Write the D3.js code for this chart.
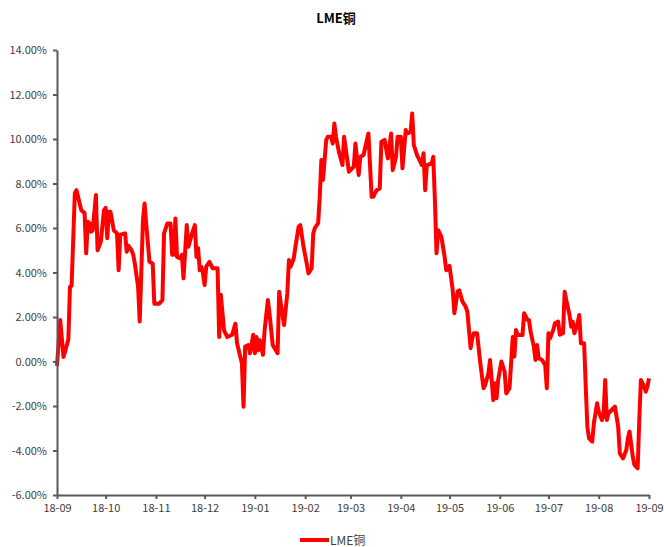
<!DOCTYPE html>
<html>
<head>
  <meta charset="utf-8">
  <title>LME铜</title>
  <script src="https://d3js.org/d3.v7.min.js"></script>
  <style>
  body { margin: 0; background: #fff; }
  text { font-family: "Liberation Sans Narrow", "Arial Narrow", "Noto Sans CJK SC", sans-serif; }
  </style>
</head>
<body>
  <div id="chart"></div>
  <script>
// series: LME copper, % change
var dates = [
  "2018-09-01","2018-09-03","2018-09-05","2018-09-06","2018-09-08","2018-09-09","2018-09-10","2018-09-12","2018-09-13","2018-09-16",
  "2018-09-18","2018-09-19","2018-09-20","2018-09-21","2018-09-22","2018-09-23","2018-09-25","2018-09-26","2018-09-28","2018-09-30",
  "2018-10-01","2018-10-02","2018-10-03","2018-10-04","2018-10-06","2018-10-08","2018-10-09","2018-10-10","2018-10-13","2018-10-14",
  "2018-10-15","2018-10-17","2018-10-18","2018-10-19","2018-10-21","2018-10-22","2018-10-24","2018-10-25","2018-10-26","2018-10-28",
  "2018-10-30","2018-10-31","2018-11-03","2018-11-05","2018-11-06","2018-11-08","2018-11-10","2018-11-11","2018-11-12","2018-11-13",
  "2018-11-14","2018-11-16","2018-11-17","2018-11-18","2018-11-20","2018-11-21","2018-11-23","2018-11-25","2018-11-26","2018-11-27",
  "2018-11-28","2018-11-29","2018-11-30","2018-12-01","2018-12-02","2018-12-04","2018-12-06","2018-12-09","2018-12-10","2018-12-11",
  "2018-12-13","2018-12-15","2018-12-18","2018-12-20","2018-12-21","2018-12-24","2018-12-25","2018-12-26","2018-12-28","2018-12-29",
  "2018-12-31","2019-01-01","2019-01-02","2019-01-03","2019-01-04","2019-01-06","2019-01-07","2019-01-09","2019-01-10","2019-01-12",
  "2019-01-15","2019-01-16","2019-01-17","2019-01-19","2019-01-21","2019-01-22","2019-01-23","2019-01-25","2019-01-26","2019-01-28",
  "2019-01-29","2019-01-31","2019-02-02","2019-02-03","2019-02-05","2019-02-06","2019-02-07","2019-02-09","2019-02-10","2019-02-11",
  "2019-02-12","2019-02-13","2019-02-14","2019-02-15","2019-02-17","2019-02-18","2019-02-19","2019-02-20","2019-02-22","2019-02-24",
  "2019-02-25","2019-02-27","2019-02-28","2019-03-03","2019-03-04","2019-03-05","2019-03-06","2019-03-07","2019-03-09","2019-03-12",
  "2019-03-14","2019-03-15","2019-03-17","2019-03-19","2019-03-20","2019-03-22","2019-03-24","2019-03-26","2019-03-27","2019-03-29",
  "2019-03-30","2019-04-01","2019-04-02","2019-04-04","2019-04-05","2019-04-07","2019-04-08","2019-04-09","2019-04-11","2019-04-14",
  "2019-04-15","2019-04-16","2019-04-17","2019-04-20","2019-04-21","2019-04-22","2019-04-23","2019-04-24","2019-04-26","2019-04-28",
  "2019-04-29","2019-05-01","2019-05-03","2019-05-04","2019-05-06","2019-05-07","2019-05-09","2019-05-11","2019-05-12","2019-05-14",
  "2019-05-15","2019-05-16","2019-05-18","2019-05-20","2019-05-22","2019-05-23","2019-05-25","2019-05-26","2019-05-28","2019-05-29",
  "2019-05-30","2019-05-31","2019-06-02","2019-06-04","2019-06-05","2019-06-07","2019-06-09","2019-06-10","2019-06-11","2019-06-12",
  "2019-06-15","2019-06-16","2019-06-18","2019-06-19","2019-06-20","2019-06-22","2019-06-23","2019-06-24","2019-06-25","2019-06-27",
  "2019-06-29","2019-06-30","2019-07-01","2019-07-02","2019-07-04","2019-07-05","2019-07-07","2019-07-08","2019-07-10","2019-07-11",
  "2019-07-12","2019-07-14","2019-07-15","2019-07-16","2019-07-17","2019-07-19","2019-07-20","2019-07-21","2019-07-23","2019-07-24",
  "2019-07-25","2019-07-26","2019-07-28","2019-07-29","2019-07-31","2019-08-01","2019-08-03","2019-08-04","2019-08-05","2019-08-06",
  "2019-08-07","2019-08-09","2019-08-11","2019-08-13","2019-08-14","2019-08-16","2019-08-18","2019-08-19","2019-08-20","2019-08-22",
  "2019-08-23","2019-08-25","2019-08-26","2019-08-27","2019-08-29","2019-08-30","2019-08-31","2019-09-01"
];
var values = [
  -0.20, 1.86, 0.20, 0.45, 1.00, 3.36, 3.40, 7.56, 7.70, 6.80,
  6.67, 4.86, 6.28, 6.22, 5.83, 5.90, 7.48, 5.00, 5.38, 6.80,
  6.90, 5.54, 6.73, 6.73, 5.90, 5.76, 4.10, 5.70, 5.76, 4.93,
  5.20, 5.00, 4.80, 4.40, 3.36, 1.80, 6.36, 7.10, 6.20, 4.48,
  4.40, 2.60, 2.60, 2.76, 5.76, 6.20, 6.20, 4.80, 4.80, 6.43,
  4.70, 4.63, 4.80, 3.74, 6.13, 5.16, 5.69, 6.13, 4.70, 5.09,
  4.10, 4.26, 3.96, 3.44, 4.26, 4.48, 4.19, 4.19, 1.10, 3.00,
  1.40, 1.10, 1.20, 1.70, 0.82, -0.08, -2.03, 0.67, 0.74, 0.37,
  1.20, 0.37, 1.10, 0.50, 0.96, 0.30, 1.40, 2.76, 2.17, 0.74,
  0.37, 3.14, 2.60, 1.64, 3.06, 4.56, 4.26, 4.64, 5.16, 6.06,
  6.13, 5.16, 4.40, 3.96, 4.19, 5.76, 6.00, 6.22, 7.40, 9.06,
  8.16, 9.06, 9.96, 10.10, 10.10, 9.80, 10.70, 10.10, 9.36, 8.83,
  10.10, 9.06, 8.53, 8.76, 9.80, 9.06, 8.38, 9.20, 9.28, 10.25,
  7.40, 7.40, 7.70, 7.78, 9.88, 9.96, 9.13, 10.25, 8.60, 9.20,
  10.10, 10.10, 8.68, 10.40, 10.25, 10.32, 11.15, 9.73, 9.28, 8.83,
  9.36, 7.70, 8.83, 8.90, 9.20, 7.26, 4.86, 5.90, 5.60, 4.70,
  4.10, 4.30, 3.20, 2.17, 3.14, 3.20, 2.69, 2.46, 2.24, 0.60,
  1.04, 1.27, 1.27, -0.08, -1.20, -1.05, -0.53, 0.07, -1.73, -0.98,
  -1.65, -0.83, 0.00, -0.46, -1.43, -1.20, 1.10, 0.22, 1.42, 1.19,
  1.19, 2.17, 1.87, 1.87, 1.34, 0.67, 0.07, 0.74, 0.15, 0.07,
  -0.16, -1.20, 1.27, 1.04, 1.42, 1.72, 1.79, 1.20, 1.27, 3.14,
  2.76, 2.09, 1.56, 1.79, 1.27, 1.72, 2.09, 0.82, 0.82, -1.13,
  -2.93, -3.45, -3.60, -2.78, -1.88, -2.26, -2.63, -2.33, -0.83, -2.63,
  -2.33, -2.18, -2.03, -2.93, -4.13, -4.35, -3.98, -3.45, -3.15, -4.28,
  -4.65, -4.80, -2.63, -0.83, -1.13, -1.36, -1.13, -0.76
];
var seriesName = "LME铜";
var yTicks = [-6, -4, -2, 0, 2, 4, 6, 8, 10, 12, 14];
var xStart = "2018-09-01", xEnd = "2019-09-01";

var width = 664, height = 547;
var margin = { top: 50, right: 15, bottom: 52, left: 57 };

var parse = d3.timeParse("%Y-%m-%d");
var data = dates.map(function(d, i) { return { date: parse(d), value: values[i] }; });

var svg = d3.select("#chart").append("svg")
  .attr("width", width)
  .attr("height", height);

var x = d3.scaleTime()
  .domain([parse(xStart), parse(xEnd)])
  .range([margin.left, width - margin.right]);

var y = d3.scaleLinear()
  .domain([-6, 14])
  .range([height - margin.bottom, margin.top]);

// title
svg.append("text")
  .attr("x", 336)
  .attr("y", 23)
  .attr("text-anchor", "middle")
  .style("font-size", "13px")
  .style("font-weight", "bold")
  .attr("fill", "#000")
  .text(seriesName);

// line
var line = d3.line()
  .x(function(d) { return x(d.date); })
  .y(function(d) { return y(d.value); });

svg.append("path")
  .datum(data)
  .attr("d", line)
  .attr("fill", "none")
  .attr("stroke", "#ff0000")
  .attr("stroke-width", 4)
  .attr("stroke-linejoin", "round");

// axes
var yAxis = svg.append("g")
  .attr("transform", "translate(" + margin.left + ",0)")
  .call(d3.axisLeft(y)
    .tickValues(yTicks)
    .tickSize(4)
    .tickSizeOuter(0)
    .tickFormat(function(d) { return d.toFixed(2) + "%"; }));

var xAxis = svg.append("g")
  .attr("transform", "translate(0," + (height - margin.bottom) + ")")
  .call(d3.axisBottom(x)
    .ticks(d3.timeMonth.every(1))
    .tickSize(4)
    .tickSizeOuter(0)
    .tickFormat(d3.timeFormat("%y-%m")));

[yAxis, xAxis].forEach(function(g) {
  g.select(".domain").attr("stroke", "#595959").attr("stroke-width", 2);
  g.selectAll(".tick line").attr("stroke", "#595959").attr("stroke-width", 2);
  g.selectAll(".tick text")
    .attr("fill", "#404040")
    .style("font-size", "11px");
});
yAxis.selectAll(".tick text").attr("x", -10);
xAxis.selectAll(".tick text").attr("y", 9);

// legend
var legend = svg.append("g").attr("transform", "translate(300,540)");
legend.append("line")
  .attr("x1", 0).attr("x2", 29)
  .attr("y1", 0).attr("y2", 0)
  .attr("stroke", "#ff0000")
  .attr("stroke-width", 4);
legend.append("text")
  .attr("x", 30)
  .attr("y", 5)
  .attr("fill", "#404040")
  .style("font-size", "12px")
  .text(seriesName);
  </script>
</body>
</html>
